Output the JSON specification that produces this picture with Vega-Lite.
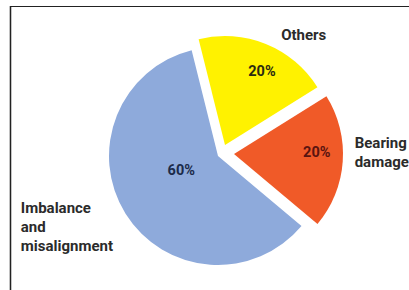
{
  "$schema": "https://vega.github.io/schema/vega-lite/v6.json",
  "width": 399,
  "height": 284,
  "autosize": "none",
  "padding": {"left": 10, "top": 6, "right": 0, "bottom": 0},
  "background": "white",
  "view": {"stroke": null},
  "data": {
    "values": [
      {"cause": "Others", "value": 20, "rank": 1, "pct": "20%"},
      {"cause": "Bearing damage", "value": 20, "rank": 2, "pct": "20%"},
      {"cause": "Imbalance and misalignment", "value": 60, "rank": 3, "pct": "60%"}
    ]
  },
  "transform": [
    {"stack": "value", "groupby": [], "sort": [{"field": "rank", "order": "ascending"}], "as": ["t0", "t1"]}
  ],
  "layer": [
    {
      "mark": {"type": "rule", "color": "#222222", "strokeWidth": 1.2},
      "encoding": {"y": {"value": 0.5}}
    },
    {
      "mark": {"type": "rule", "color": "#222222", "strokeWidth": 1.2},
      "encoding": {"x": {"value": 0.5}}
    },
    {
      "transform": [{"filter": "datum.cause === 'Imbalance and misalignment'"}],
      "mark": {"type": "arc", "outerRadius": 109, "x": 208, "y": 150, "color": "#8eaadb"},
      "encoding": {
        "theta": {"field": "t0", "type": "quantitative", "stack": null, "scale": {"domain": [0, 100], "range": [-0.2443, 6.0389]}},
        "theta2": {"field": "t1"}
      }
    },
    {
      "transform": [{"filter": "datum.cause === 'Others'"}],
      "mark": {"type": "arc", "outerRadius": 109, "x": 215, "y": 139, "color": "#fff200"},
      "encoding": {
        "theta": {"field": "t0", "type": "quantitative", "stack": null, "scale": {"domain": [0, 100], "range": [-0.2443, 6.0389]}},
        "theta2": {"field": "t1"}
      }
    },
    {
      "transform": [{"filter": "datum.cause === 'Bearing damage'"}],
      "mark": {"type": "arc", "outerRadius": 109, "x": 224, "y": 148, "color": "#f05a28"},
      "encoding": {
        "theta": {"field": "t0", "type": "quantitative", "stack": null, "scale": {"domain": [0, 100], "range": [-0.2443, 6.0389]}},
        "theta2": {"field": "t1"}
      }
    },
    {
      "mark": {"type": "text", "x": 213, "y": 146, "radius": 88, "dx": 6, "dy": 2, "font": "Roboto", "fontWeight": "bold", "fontSize": 14.5, "color": "#2b2b10", "align": "center", "baseline": "middle"},
      "encoding": {
        "theta": {"field": "value", "type": "quantitative", "stack": true, "scale": {"domain": [0, 100], "range": [-0.2443, 6.0389]}},
        "order": {"field": "rank"},
        "detail": {"field": "cause"},
        "text": {"condition": {"test": "datum.cause === 'Others'", "field": "pct"}, "value": ""}
      }
    },
    {
      "mark": {"type": "text", "x": 213, "y": 146, "radius": 94, "dx": 0, "dy": -6, "font": "Roboto", "fontWeight": "bold", "fontSize": 14.5, "color": "#5a1410", "align": "center", "baseline": "middle"},
      "encoding": {
        "theta": {"field": "value", "type": "quantitative", "stack": true, "scale": {"domain": [0, 100], "range": [-0.2443, 6.0389]}},
        "order": {"field": "rank"},
        "detail": {"field": "cause"},
        "text": {"condition": {"test": "datum.cause === 'Bearing damage'", "field": "pct"}, "value": ""}
      }
    },
    {
      "mark": {"type": "text", "x": 213, "y": 146, "radius": 48, "dx": -1, "dy": -6, "font": "Roboto", "fontWeight": "bold", "fontSize": 14.5, "color": "#1b2a4a", "align": "center", "baseline": "middle"},
      "encoding": {
        "theta": {"field": "value", "type": "quantitative", "stack": true, "scale": {"domain": [0, 100], "range": [-0.2443, 6.0389]}},
        "order": {"field": "rank"},
        "detail": {"field": "cause"},
        "text": {"condition": {"test": "datum.cause === 'Imbalance and misalignment'", "field": "pct"}, "value": ""}
      }
    },
    {
      "mark": {"type": "text", "x": 213, "y": 146, "radius": 130, "dx": 32, "dy": 4, "font": "Roboto", "fontWeight": "bold", "fontSize": 15, "color": "#2b2b2b", "align": "center", "baseline": "middle"},
      "encoding": {
        "theta": {"field": "value", "type": "quantitative", "stack": true, "scale": {"domain": [0, 100], "range": [-0.2443, 6.0389]}},
        "order": {"field": "rank"},
        "detail": {"field": "cause"},
        "text": {"condition": {"test": "datum.cause === 'Others'", "field": "cause"}, "value": ""}
      }
    },
    {
      "mark": {"type": "text", "x": 213, "y": 146, "radius": 132, "dx": 0, "dy": -18, "font": "Roboto", "fontWeight": "bold", "fontSize": 15, "lineHeight": 19, "lineBreak": " ", "color": "#2b2b2b", "align": "left", "baseline": "middle"},
      "encoding": {
        "theta": {"field": "value", "type": "quantitative", "stack": true, "scale": {"domain": [0, 100], "range": [-0.2443, 6.0389]}},
        "order": {"field": "rank"},
        "detail": {"field": "cause"},
        "text": {"condition": {"test": "datum.cause === 'Bearing damage'", "field": "cause"}, "value": ""}
      }
    },
    {
      "mark": {"type": "text", "x": 213, "y": 146, "radius": 150, "dx": -75, "dy": -23, "font": "Roboto", "fontWeight": "bold", "fontSize": 15, "lineHeight": 19, "lineBreak": " ", "color": "#2b2b2b", "align": "left", "baseline": "middle"},
      "encoding": {
        "theta": {"field": "value", "type": "quantitative", "stack": true, "scale": {"domain": [0, 100], "range": [-0.2443, 6.0389]}},
        "order": {"field": "rank"},
        "detail": {"field": "cause"},
        "text": {"condition": {"test": "datum.cause === 'Imbalance and misalignment'", "field": "cause"}, "value": ""}
      }
    }
  ]
}
